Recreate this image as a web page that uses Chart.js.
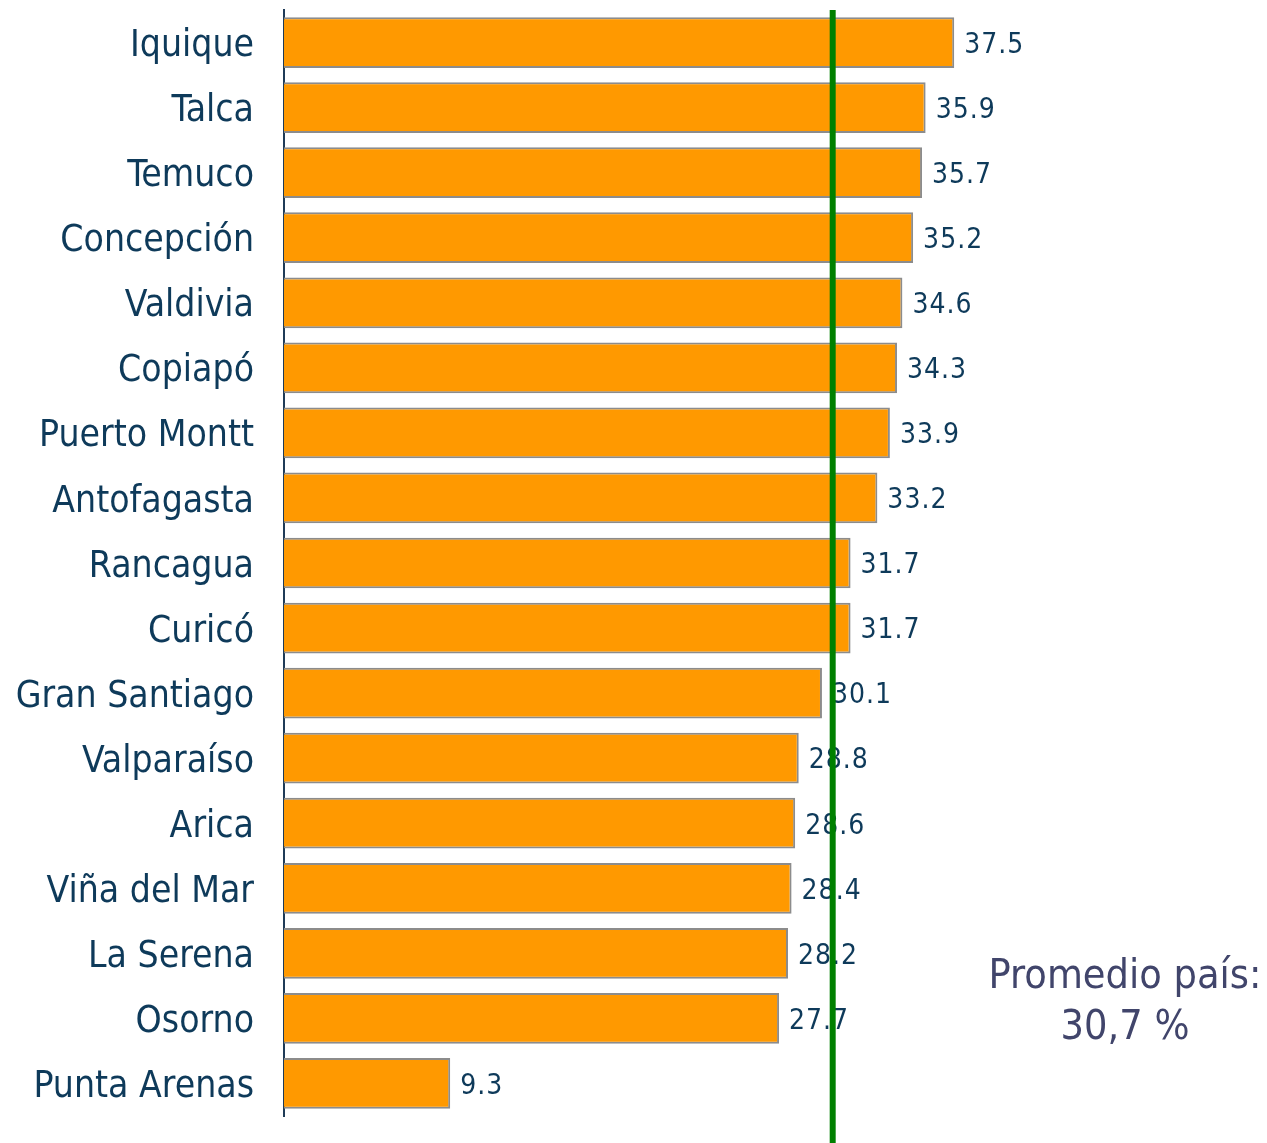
<!DOCTYPE html>
<html>
<head>
<meta charset="utf-8">
<script src="https://cdn.jsdelivr.net/npm/chart.js@4/dist/chart.umd.min.js"></script>
<style>
html,body{margin:0;padding:0;background:#fff;}
#wrap{position:relative;width:1267px;height:1143px;}
</style>
</head>
<body>
<div id="wrap"><canvas id="c" width="1267" height="1143"></canvas></div>
<script>
const categories = ["Iquique","Talca","Temuco","Concepción","Valdivia","Copiapó","Puerto Montt","Antofagasta","Rancagua","Curicó","Gran Santiago","Valparaíso","Arica","Viña del Mar","La Serena","Osorno","Punta Arenas"];
const values = [37.5,35.9,35.7,35.2,34.6,34.3,33.9,33.2,31.7,31.7,30.1,28.8,28.6,28.4,28.2,27.7,9.3];
const averageValue = 30.7;
const averageLabel = ["Promedio país:", "30,7 %"];

const FONT = "'DejaVu Sans Condensed', 'DejaVu Sans', sans-serif";
const TEXT = "#0e3a5a";

const valueLabels = {
  id: 'valueLabels',
  afterDatasetsDraw(chart) {
    const ctx = chart.ctx;
    const meta = chart.getDatasetMeta(0);
    ctx.save();
    ctx.font = "28px " + FONT;
    try { ctx.letterSpacing = '1px'; } catch (e) {}
    ctx.fillStyle = TEXT;
    ctx.textAlign = 'left';
    ctx.textBaseline = 'middle';
    meta.data.forEach((bar, i) => {
      ctx.fillText(values[i].toFixed(1), bar.x + 10, bar.y + 3);
    });
    ctx.restore();
  }
};

const avgLine = {
  id: 'avgLine',
  afterDraw(chart) {
    const ctx = chart.ctx;
    const x = chart.scales.x.getPixelForValue(averageValue);
    ctx.save();
    ctx.strokeStyle = '#008000';
    ctx.lineWidth = 6;
    ctx.beginPath();
    ctx.moveTo(x, chart.chartArea.top);
    ctx.lineTo(x, chart.height);
    ctx.stroke();
    ctx.font = "41px " + FONT;
    ctx.fillStyle = '#41456b';
    ctx.textAlign = 'center';
    ctx.textBaseline = 'middle';
    ctx.fillText(averageLabel[0], 1125, 977);
    ctx.fillText(averageLabel[1], 1125, 1028);
    ctx.restore();
  }
};

new Chart(document.getElementById('c'), {
  type: 'bar',
  data: {
    labels: categories,
    datasets: [{
      data: values,
      backgroundColor: '#FF9900',
      borderColor: '#8c8c8c',
      borderWidth: 2,
      borderSkipped: 'left',
      categoryPercentage: 1.0,
      barPercentage: 0.78
    }]
  },
  options: {
    indexAxis: 'y',
    responsive: false,
    animation: false,
    layout: { padding: { top: 10, bottom: 27, left: 0, right: 0 } },
    plugins: { legend: { display: false }, tooltip: { enabled: false } },
    scales: {
      x: { display: false, min: 0, max: 55 },
      y: {
        afterFit(scale) { scale.width = 284; scale.paddingTop = 0; scale.paddingBottom = 0; },
        grid: { display: false, drawTicks: false },
        border: { display: true, color: '#1f3b57', width: 2 },
        ticks: { color: TEXT, font: { family: FONT, size: 37 }, padding: 30, labelOffset: 4 }
      }
    }
  },
  plugins: [valueLabels, avgLine]
});
</script>
</body>
</html>
